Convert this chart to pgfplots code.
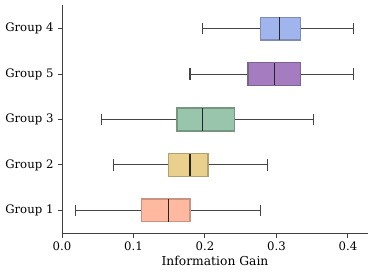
\documentclass[border=0pt]{standalone}
\usepackage{fontspec}
\setmainfont{DejaVu Serif}
\usepackage{pgfplots}
\pgfplotsset{compat=1.18}
\usepgfplotslibrary{statistics}
\definecolor{cA}{HTML}{FFB9A0}\definecolor{eA}{HTML}{C89383}
\definecolor{cB}{HTML}{E9D08C}\definecolor{eB}{HTML}{B3A070}
\definecolor{cC}{HTML}{98C5AB}\definecolor{eC}{HTML}{75967F}
\definecolor{cD}{HTML}{A57CC0}\definecolor{eD}{HTML}{7A6590}
\definecolor{cE}{HTML}{A0B4EE}\definecolor{eE}{HTML}{7F8CB0}
\definecolor{wk}{HTML}{444444}
\begin{document}
\begin{tikzpicture}
\path[use as bounding box] (-62pt,-41pt) rectangle (312pt,234pt);
\begin{axis}[
  at={(0,0)}, anchor=south west,
  scale only axis, width=306pt, height=229pt,
  xmin=0, xmax=0.428, ymin=0.48, ymax=5.52,
  axis lines*=left,
  axis line style={color=black!75, line width=1pt},
  tick style={color=black!75, line width=1pt},
  tick align=outside,
  major tick length=4pt,
  xtick={0,0.1,0.2,0.3,0.4},
  xticklabels={0.0,0.1,0.2,0.3,0.4},
  ytick={1,2,3,4,5},
  yticklabels={Group 1,Group 2,Group 3,Group 5,Group 4},
  xlabel={Information Gain},
  xlabel style={font=\fontsize{12.3}{14}\selectfont, yshift=1pt},
  ticklabel style={font=\fontsize{11.7}{13}\selectfont},
  yticklabel style={xshift=-1pt},
  /pgf/number format/assume math mode=true,
  boxplot/box extend=0.5,
  boxplot/whisker extend=0.25,
  boxplot/every whisker/.style={draw=wk, line width=1.1pt},
  boxplot/every median/.style={draw=black!85, line width=1.1pt},
  clip=false,
]
\addplot+[mark=none, draw=eA, fill=cA, line width=1.3pt,
  boxplot prepared={draw position=1, lower whisker=0.019, lower quartile=0.111, median=0.149, upper quartile=0.179, upper whisker=0.278}] coordinates {};
\addplot+[mark=none, draw=eB, fill=cB, line width=1.3pt,
  boxplot prepared={draw position=2, lower whisker=0.072, lower quartile=0.149, median=0.179, upper quartile=0.204, upper whisker=0.287}] coordinates {};
\addplot+[mark=none, draw=eC, fill=cC, line width=1.3pt,
  boxplot prepared={draw position=3, lower whisker=0.0555, lower quartile=0.161, median=0.197, upper quartile=0.2415, upper whisker=0.352}] coordinates {};
\addplot+[mark=none, draw=eD, fill=cD, line width=1.3pt,
  boxplot prepared={draw position=4, lower whisker=0.179, lower quartile=0.260, median=0.297, upper quartile=0.334, upper whisker=0.408}] coordinates {};
\addplot+[mark=none, draw=eE, fill=cE, line width=1.3pt,
  boxplot prepared={draw position=5, lower whisker=0.197, lower quartile=0.278, median=0.304, upper quartile=0.334, upper whisker=0.408}] coordinates {};
\end{axis}
\end{tikzpicture}
\end{document}
